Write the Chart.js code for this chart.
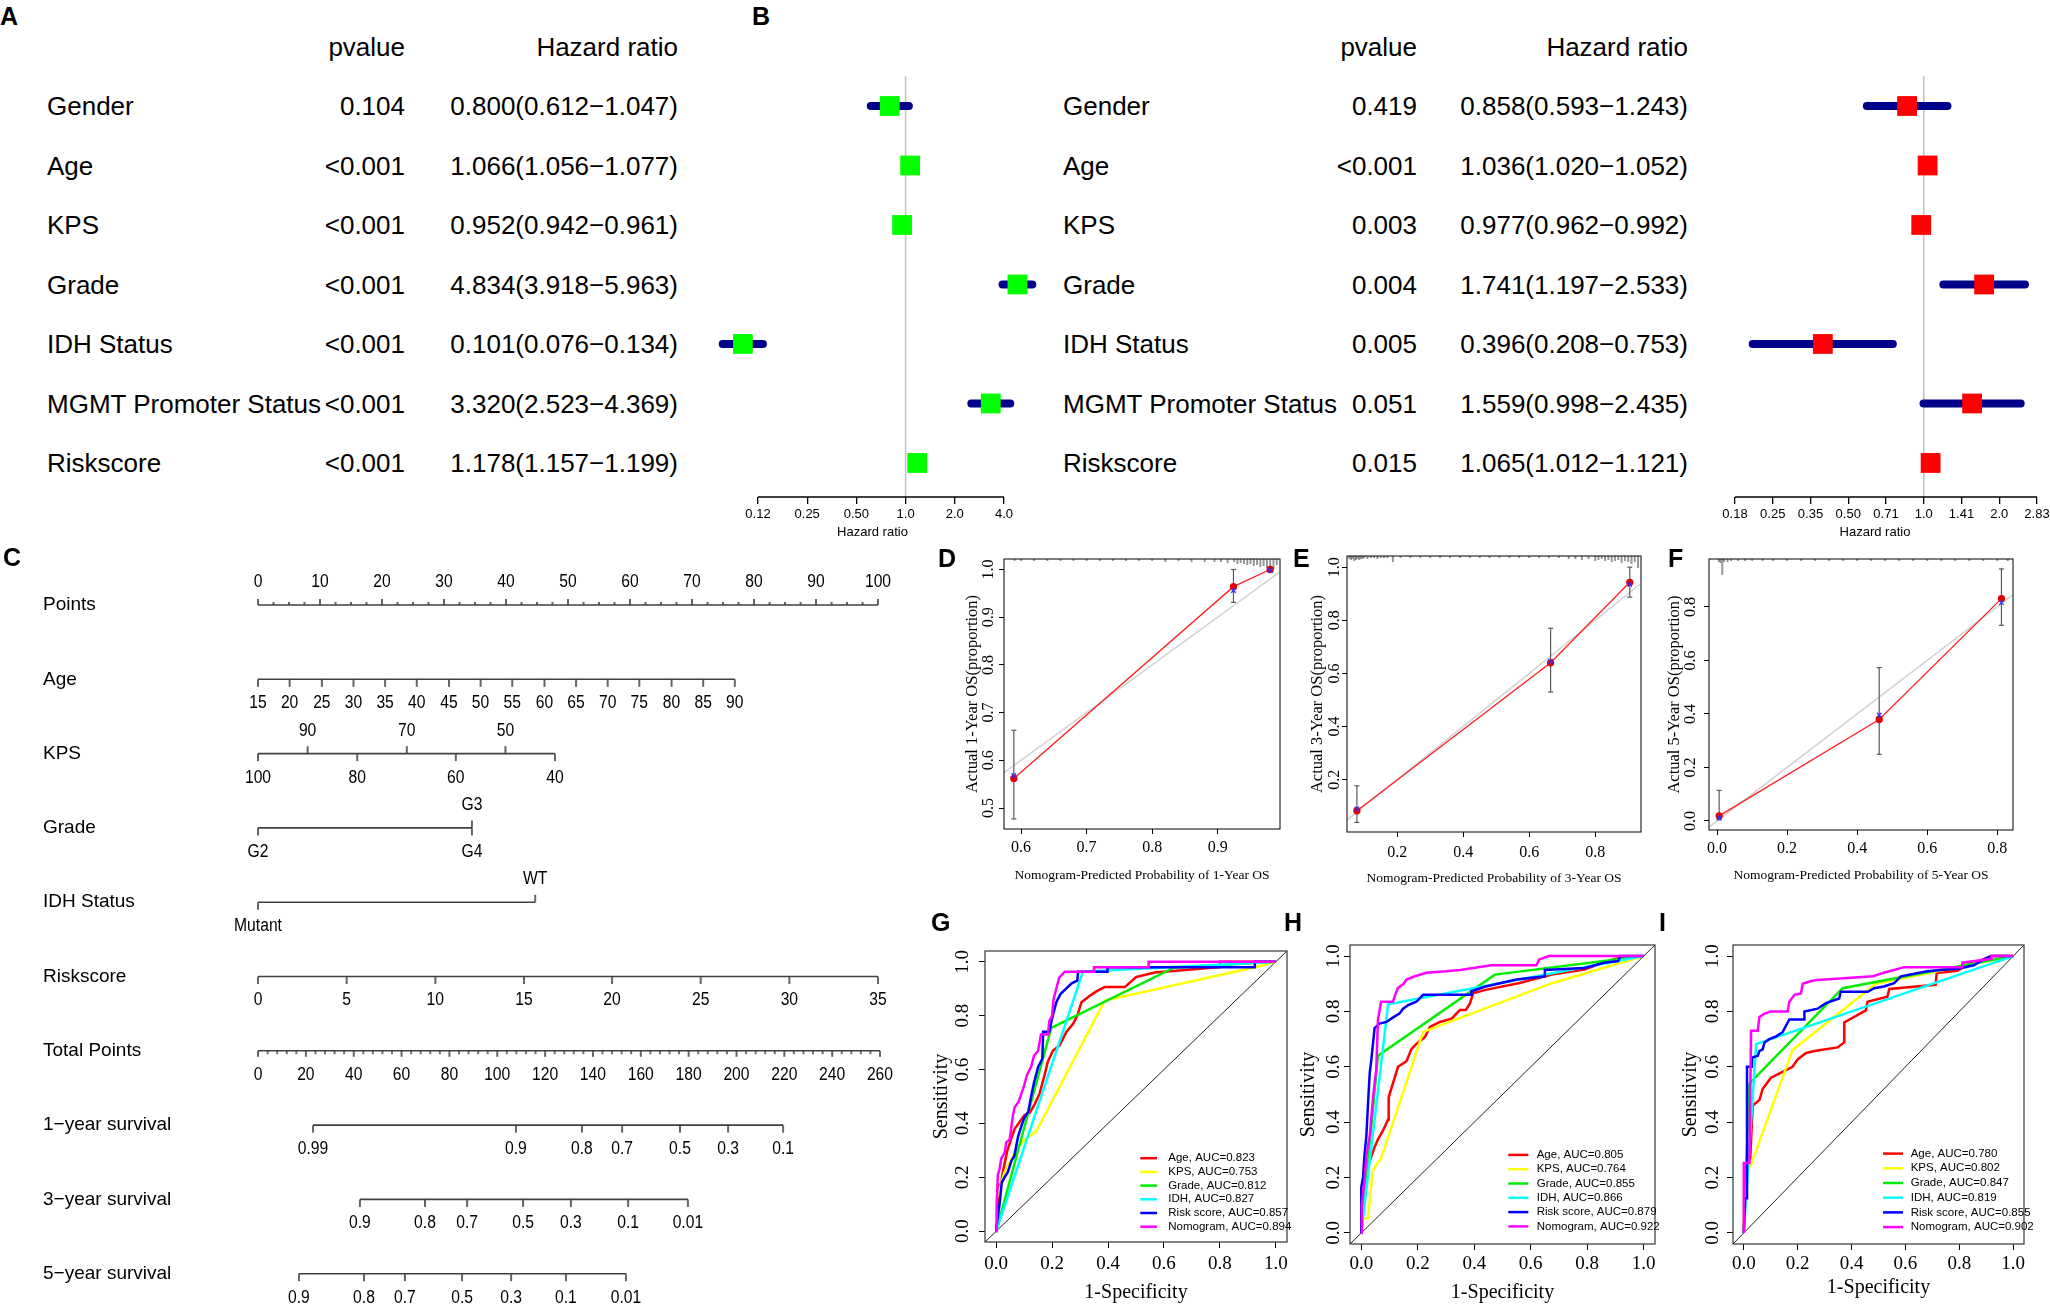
<!DOCTYPE html>
<html><head><meta charset="utf-8">
<script src="https://cdn.jsdelivr.net/npm/chart.js"></script>
<style>
html,body{margin:0;padding:0;background:#fff;}
#fig{position:relative;width:2050px;height:1306px;overflow:hidden;font-family:'Liberation Sans',Arial,sans-serif;color:#000;background:#fff;}
canvas{position:absolute;}
.t{position:absolute;white-space:nowrap;line-height:1;}
.tab{font-size:26px;}
.lab{font-weight:bold;font-size:25px;}
</style></head><body><div id="fig"></div>
<script>
// ---------------- DATA ----------------
const varNames = ['Gender','Age','KPS','Grade','IDH Status','MGMT Promoter Status','Riskscore'];
// Panel A: univariate Cox
const uniP  = ['0.104','<0.001','<0.001','<0.001','<0.001','<0.001','<0.001'];
const uniHR = [0.800,1.066,0.952,4.834,0.101,3.320,1.178];
const uniLo = [0.612,1.056,0.942,3.918,0.076,2.523,1.157];
const uniHi = [1.047,1.077,0.961,5.963,0.134,4.369,1.199];
const uniTicks = [0.125,0.25,0.5,1,2,4];
const uniTickLabels = ['0.12','0.25','0.50','1.0','2.0','4.0'];
// Panel B: multivariate Cox
const multiP  = ['0.419','<0.001','0.003','0.004','0.005','0.051','0.015'];
const multiHR = [0.858,1.036,0.977,1.741,0.396,1.559,1.065];
const multiLo = [0.593,1.020,0.962,1.197,0.208,0.998,1.012];
const multiHi = [1.243,1.052,0.992,2.533,0.753,2.435,1.121];
const multiTicks = [0.1768,0.25,0.3536,0.5,0.7071,1,1.4142,2,2.8284];
const multiTickLabels = ['0.18','0.25','0.35','0.50','0.71','1.0','1.41','2.0','2.83'];

// Panel C: nomogram
const nomoRows = ['Points','Age','KPS','Grade','IDH Status','Riskscore','Total Points','1\u2212year survival','3\u2212year survival','5\u2212year survival'];
const pointsTicks = [0,2.5,5,7.5,10,12.5,15,17.5,20,22.5,25,27.5,30,32.5,35,37.5,40,42.5,45,47.5,50,52.5,55,57.5,60,62.5,65,67.5,70,72.5,75,77.5,80,82.5,85,87.5,90,92.5,95,97.5,100];
const ageLabels = ['15','20','25','30','35','40','45','50','55','60','65','70','75','80','85','90'];
const agePoints = [0,5.1,10.3,15.4,20.5,25.6,30.8,35.9,41.0,46.2,51.3,56.4,61.5,66.7,71.8,76.9];
const kpsLabels = ['100','90','80','70','60','50','40'];
const kpsPoints = [0,8.0,16.0,24.0,31.9,39.9,47.9];
const kpsSides  = ['down','up','down','up','down','up','down'];
const gradeLabels = ['G2','G3','G4'];
const gradePoints = [0,34.5,34.5];
const gradeSides  = ['down','up','down'];
const idhLabels = ['Mutant','WT'];
const idhPoints = [0,44.7];
const idhSides  = ['down','up'];
const riskLabels = ['0','5','10','15','20','25','30','35'];
const riskPoints = [0,14.3,28.6,42.9,57.1,71.4,85.7,100];
const totalTicks = [0,4,8,12,16,20,24,28,32,36,40,44,48,52,56,60,64,68,72,76,80,84,88,92,96,100,104,108,112,116,120,124,128,132,136,140,144,148,152,156,160,164,168,172,176,180,184,188,192,196,200,204,208,212,216,220,224,228,232,236,240,244,248,252,256,260];
const surv1Labels = ['0.99','0.9','0.8','0.7','0.5','0.3','0.1'];
const surv1Total  = [23.0,107.8,135.4,152.2,176.4,196.5,219.5];
const surv3Labels = ['0.9','0.8','0.7','0.5','0.3','0.1','0.01'];
const surv3Total  = [42.6,69.8,87.4,110.8,130.8,154.7,179.7];
const surv5Labels = ['0.9','0.8','0.7','0.5','0.3','0.1','0.01'];
const surv5Total  = [17.1,44.3,61.4,85.3,105.8,128.7,153.8];

// Panels D-F: calibration
const predD = [0.589,0.924,0.980], obsD = [0.562,0.964,1.000], loD = [0.477,0.931,0.994], hiD = [0.663,1.000,1.000], corD = [0.568,0.956,0.998];
const predE = [0.078,0.665,0.905], obsE = [0.083,0.640,0.943], loE = [0.039,0.530,0.887], hiE = [0.177,0.770,1.000], corE = [0.090,0.645,0.935];
const predF = [0.006,0.463,0.812], obsF = [0.019,0.379,0.831], loF = [0.004,0.249,0.731], hiF = [0.114,0.573,0.942], corF = [0.012,0.396,0.816];
const rugDx = [0.59,0.60,0.62,0.64,0.66,0.68,0.70,0.72,0.74,0.76,0.78,0.80,0.82,0.84,0.86,0.88,0.895,0.905,0.915,0.925,0.93,0.935,0.94,0.945,0.95,0.955,0.96,0.965,0.97,0.975,0.98,0.985,0.99];
const rugDl = [2,2,2,2,2,2,2,2,2,2,2,2,3,2,3,3,3,3,4,3,5,4,5,6,5,7,6,8,7,9,8,10,6];
const rugEx = [0.055,0.06,0.065,0.07,0.075,0.08,0.085,0.09,0.095,0.10,0.11,0.12,0.13,0.14,0.15,0.16,0.17,0.187,0.21,0.24,0.27,0.30,0.33,0.36,0.39,0.42,0.45,0.48,0.51,0.54,0.57,0.60,0.63,0.66,0.69,0.72,0.74,0.76,0.78,0.80,0.81,0.82,0.83,0.84,0.85,0.86,0.87,0.88,0.89,0.90,0.91,0.92,0.93];
const rugEl = [3,4,3,5,4,3,4,3,3,2,3,2,2,3,2,2,2,6,2,2,2,2,2,2,2,2,2,2,2,2,2,2,2,2,2,3,3,4,3,5,4,3,5,4,6,5,4,7,5,6,8,6,12];
const rugFx = [0.005,0.01,0.015,0.02,0.03,0.04,0.06,0.08,0.10,0.13,0.16,0.20,0.24,0.28,0.32,0.36,0.40,0.44,0.48,0.52,0.56,0.60,0.64,0.68,0.72,0.76,0.80,0.83];
const rugFl = [3,4,16,3,3,2,2,2,2,2,2,2,2,2,2,2,2,2,2,2,2,2,2,2,2,2,2,2];

// Panels G-I: ROC curves  [1-specificity, sensitivity]
const rocNames = ['Age','KPS','Grade','IDH','Risk score','Nomogram'];
const aucG = [0.823,0.753,0.812,0.827,0.857,0.894];
const aucH = [0.805,0.764,0.855,0.866,0.879,0.922];
const aucI = [0.780,0.802,0.847,0.819,0.855,0.902];
const rocG_Age = [[0,0],[0.004,0.10],[0.006,0.17],[0.018,0.175],[0.022,0.21],[0.04,0.30],[0.066,0.38],[0.08,0.40],[0.10,0.43],[0.12,0.44],[0.137,0.47],[0.155,0.51],[0.173,0.58],[0.185,0.63],[0.203,0.67],[0.227,0.69],[0.251,0.74],[0.275,0.77],[0.29,0.80],[0.305,0.85],[0.33,0.87],[0.358,0.89],[0.388,0.906],[0.46,0.906],[0.50,0.943],[0.567,0.96],[0.60,0.963],[0.80,0.98],[0.80,1.0],[1,1]];
const rocG_KPS = [[0,0],[0.002,0.12],[0.03,0.22],[0.07,0.30],[0.10,0.34],[0.143,0.37],[0.388,0.856],[0.926,0.98],[1,1]];
const rocG_Grade = [[0,0],[0.197,0.755],[0.636,0.978],[1,1]];
const rocG_IDH = [[0,0],[0.31,0.963],[1,1]];
const rocG_Risk = [[0,0],[0.004,0.04],[0.008,0.07],[0.012,0.10],[0.02,0.18],[0.03,0.20],[0.042,0.22],[0.054,0.26],[0.065,0.28],[0.078,0.35],[0.09,0.39],[0.10,0.42],[0.115,0.445],[0.125,0.50],[0.135,0.55],[0.15,0.61],[0.165,0.64],[0.168,0.74],[0.19,0.74],[0.20,0.79],[0.215,0.85],[0.23,0.88],[0.25,0.90],[0.27,0.92],[0.29,0.93],[0.293,0.963],[0.398,0.963],[0.398,0.98],[0.925,0.98],[0.925,1.0],[1,1]];
const rocG_Nomo = [[0,0],[0.002,0.10],[0.006,0.21],[0.012,0.23],[0.018,0.27],[0.03,0.29],[0.036,0.33],[0.048,0.34],[0.06,0.43],[0.066,0.46],[0.08,0.48],[0.09,0.51],[0.10,0.54],[0.11,0.58],[0.125,0.61],[0.135,0.65],[0.15,0.67],[0.16,0.73],[0.185,0.73],[0.19,0.78],[0.20,0.80],[0.205,0.86],[0.215,0.90],[0.225,0.94],[0.245,0.963],[0.35,0.963],[0.35,0.98],[0.545,0.98],[0.545,1.0],[1,1]];
const rocH_Age = [[0,0],[0.006,0.09],[0.012,0.17],[0.03,0.26],[0.047,0.31],[0.06,0.34],[0.077,0.37],[0.095,0.41],[0.097,0.49],[0.112,0.54],[0.13,0.60],[0.16,0.62],[0.178,0.665],[0.195,0.683],[0.225,0.707],[0.243,0.744],[0.278,0.762],[0.32,0.774],[0.349,0.805],[0.37,0.805],[0.385,0.83],[0.396,0.866],[0.44,0.878],[0.556,0.902],[0.675,0.933],[0.79,0.951],[0.84,0.97],[0.90,0.99],[1,1]];
const rocH_KPS = [[0,0],[0.006,0.05],[0.024,0.055],[0.04,0.226],[0.07,0.27],[0.219,0.726],[0.675,0.902],[1,1]];
const rocH_Grade = [[0,0],[0.059,0.64],[0.473,0.933],[1,1]];
const rocH_IDH = [[0,0],[0.095,0.826],[1,1]];
const rocH_Risk = [[0,0],[0,0.165],[0.006,0.20],[0.012,0.29],[0.018,0.35],[0.024,0.47],[0.03,0.58],[0.035,0.62],[0.047,0.74],[0.065,0.756],[0.089,0.762],[0.106,0.774],[0.136,0.793],[0.148,0.81],[0.166,0.823],[0.195,0.835],[0.219,0.86],[0.39,0.86],[0.39,0.873],[0.44,0.89],[0.55,0.915],[0.65,0.927],[0.65,0.95],[0.79,0.957],[0.86,0.976],[0.91,0.982],[0.917,1.0],[1,1]];
const rocH_Nomo = [[0,0],[0.002,0.10],[0.012,0.20],[0.018,0.28],[0.03,0.35],[0.04,0.47],[0.047,0.54],[0.053,0.59],[0.059,0.77],[0.07,0.835],[0.112,0.835],[0.12,0.86],[0.13,0.885],[0.15,0.90],[0.16,0.915],[0.19,0.927],[0.23,0.94],[0.30,0.945],[0.35,0.95],[0.46,0.967],[0.62,0.967],[0.63,0.988],[0.665,1.0],[1,1]];
const rocI_Age = [[0,0],[0.004,0.10],[0.015,0.25],[0.024,0.27],[0.033,0.46],[0.058,0.48],[0.07,0.52],[0.10,0.56],[0.12,0.57],[0.181,0.60],[0.20,0.627],[0.231,0.65],[0.262,0.657],[0.348,0.67],[0.373,0.688],[0.373,0.76],[0.453,0.804],[0.459,0.835],[0.533,0.853],[0.54,0.881],[0.712,0.896],[0.716,0.939],[0.793,0.947],[0.83,0.969],[0.89,0.988],[0.916,1.0],[1,1]];
const rocI_KPS = [[0,0],[0.002,0.21],[0.027,0.247],[0.181,0.661],[0.49,0.90],[1,1]];
const rocI_Grade = [[0,0],[0.021,0.54],[0.367,0.884],[1,1]];
const rocI_IDH = [[0,0],[0.046,0.682],[1,1]];
const rocI_Risk = [[0,0],[0.005,0.125],[0.012,0.125],[0.012,0.60],[0.03,0.60],[0.031,0.633],[0.052,0.64],[0.058,0.657],[0.07,0.663],[0.077,0.688],[0.095,0.70],[0.12,0.71],[0.144,0.725],[0.169,0.771],[0.225,0.771],[0.225,0.80],[0.274,0.81],[0.305,0.83],[0.354,0.847],[0.36,0.871],[0.46,0.871],[0.484,0.884],[0.52,0.89],[0.558,0.902],[0.583,0.927],[0.68,0.945],[0.80,0.955],[0.854,0.967],[0.89,0.988],[0.92,1.0],[1,1]];
const rocI_Nomo = [[0,0],[0,0.253],[0.021,0.253],[0.027,0.73],[0.052,0.73],[0.058,0.78],[0.077,0.792],[0.10,0.80],[0.163,0.80],[0.169,0.835],[0.188,0.86],[0.212,0.865],[0.219,0.90],[0.25,0.91],[0.274,0.914],[0.48,0.927],[0.52,0.94],[0.595,0.96],[0.81,0.96],[0.811,0.976],[0.92,0.99],[0.92,1.0],[1,1]];
const rocTicks = [0,0.2,0.4,0.6,0.8,1.0];

// ---------------- SETUP ----------------
const SANS = "'Liberation Sans', Arial, sans-serif";
const SERIF = "'Liberation Serif', 'Times New Roman', serif";
Chart.defaults.font.family = SANS;
Chart.defaults.color = '#000';
Chart.defaults.animation = false;
Chart.defaults.events = [];
Chart.defaults.plugins.legend.display = false;
Chart.defaults.plugins.tooltip.enabled = false;

const fig = document.getElementById('fig');
function mkCanvas(left, top, w, h) {
  const c = document.createElement('canvas');
  c.width = w; c.height = h;
  c.style.left = left + 'px'; c.style.top = top + 'px';
  c.style.width = w + 'px'; c.style.height = h + 'px';
  fig.appendChild(c);
  return c;
}
function addText(txt, x, y, cls, align) {
  const d = document.createElement('div');
  d.className = 't ' + cls; d.textContent = txt;
  const tx = align === 'r' ? '-100%' : (align === 'c' ? '-50%' : '0');
  d.style.left = x + 'px'; d.style.top = y + 'px';
  d.style.transform = 'translate(' + tx + ',-50%)';
  fig.appendChild(d);
}
function tickImg(up, down, color, w) {
  const c = document.createElement('canvas');
  const L = Math.max(up, down);
  c.width = 4; c.height = Math.ceil(2 * L + 2);
  const g = c.getContext('2d');
  g.fillStyle = color;
  const cy = c.height / 2;
  g.fillRect(2 - w / 2, cy - up, w, up + down);
  return c;
}

// ---------------- PLUGINS ----------------
const forestAxisLine = {
  id: 'forestAxisLine',
  afterDraw(chart) {
    const s = chart.scales.x, t = s.ticks, c = chart.ctx, y = chart.chartArea.bottom;
    c.save(); c.strokeStyle = '#000'; c.lineWidth = 1.3;
    c.beginPath(); c.moveTo(s.getPixelForValue(t[0].value), y); c.lineTo(s.getPixelForValue(t[t.length - 1].value), y); c.stroke();
    c.restore();
  }
};
const boxPlugin = {
  id: 'box',
  afterDatasetsDraw(chart, args, o) {
    const a = chart.chartArea, c = chart.ctx;
    c.save(); c.strokeStyle = o.color || '#000'; c.lineWidth = o.lw || 1;
    c.strokeRect(a.left, a.top, a.right - a.left, a.bottom - a.top);
    c.restore();
  }
};
const rocLegend = {
  id: 'rocLegend',
  afterDatasetsDraw(chart, args, o) {
    const a = chart.chartArea, c = chart.ctx;
    const items = chart.data.datasets.filter(d => d.legendText);
    c.save(); c.font = '11.5px ' + SANS; c.textBaseline = 'middle'; c.textAlign = 'left';
    items.forEach((d, i) => {
      const y = a.bottom - o.bottom - (items.length - 1 - i) * o.gap;
      c.strokeStyle = d.borderColor; c.lineWidth = 2.5;
      c.beginPath(); c.moveTo(a.right - o.lineL, y); c.lineTo(a.right - o.lineR, y); c.stroke();
      c.fillStyle = '#000'; c.fillText(d.legendText, a.right - o.text, y);
    });
    c.restore();
  }
};
const nomoLabels = {
  id: 'nomoLabels',
  afterDatasetsDraw(chart) {
    const c = chart.ctx;
    c.save(); c.font = '18px ' + SANS; c.fillStyle = '#000'; c.textAlign = 'center'; c.textBaseline = 'middle';
    chart.data.datasets.forEach((d, i) => {
      if (!d.tickLabels) return;
      const meta = chart.getDatasetMeta(i);
      meta.data.forEach((el, j) => {
        const t = d.tickLabels[j]; if (!t) return;
        c.save();
        c.translate(el.x, el.y + (d.sides[j] === 'up' ? -23 : 24));
        c.scale(0.87, 1);
        c.fillText(t, 0, 0);
        c.restore();
      });
    });
    c.restore();
  }
};

// ---------------- FOREST (A, B) ----------------
const FY_MIN = -0.504, FY_MAX = 6.572;
function forest(left, width, hr, lo, hi, color, ticks, tickLabels, xmin, xmax) {
  const cv = mkCanvas(left, 60, width, 490);
  const ds = [{ data: [{ x: 0, y: FY_MIN }, { x: 0, y: FY_MAX }], showLine: true, borderColor: '#c4c4c4', borderWidth: 1.6, pointRadius: 0, order: 10 }];
  hr.forEach((h, i) => ds.push({ data: [{ x: Math.log2(lo[i]), y: i }, { x: Math.log2(hi[i]), y: i }], showLine: true, borderColor: '#00008B', borderWidth: 8, borderCapStyle: 'round', pointRadius: 0, order: 5 }));
  ds.push({ data: hr.map((h, i) => ({ x: Math.log2(h), y: i })), pointStyle: 'rect', pointRadius: 14, backgroundColor: color, pointBackgroundColor: color, borderWidth: 0, pointBorderWidth: 0, order: 1 });
  new Chart(cv, {
    type: 'scatter', data: { datasets: ds },
    options: {
      responsive: false, layout: { autoPadding: false, padding: { top: 16, left: 0, right: 0, bottom: 0 } },
      scales: {
        x: { type: 'linear', min: xmin, max: xmax,
          afterBuildTicks: s => { s.ticks = ticks.map(v => ({ value: Math.log2(v) })); },
          afterFit: s => { s.height = 53; s.paddingLeft = 0; s.paddingRight = 0; },
          grid: { display: true, drawOnChartArea: false, drawTicks: true, tickLength: 7, color: '#000', lineWidth: 1.3 },
          border: { display: false },
          ticks: { autoSkip: false, maxRotation: 0, minRotation: 0, padding: 3, font: { size: 13 }, color: '#000', callback: (v, i) => tickLabels[i] },
          title: { display: true, text: 'Hazard ratio', font: { size: 13 }, color: '#000', padding: { top: 0, bottom: 10 } } },
        y: { type: 'linear', display: false, reverse: true, min: FY_MIN, max: FY_MAX }
      }
    },
    plugins: [forestAxisLine]
  });
}
forest(700, 345, uniHR, uniLo, uniHi, '#00FF00', uniTicks, uniTickLabels, -4.1789, 2.8333);
forest(1700, 350, multiHR, multiLo, multiHi, '#FF0000', multiTicks, multiTickLabels, -2.9636, 1.6722);

function fmtHR(h, l, u) { return h.toFixed(3) + '(' + l.toFixed(3) + '\u2212' + u.toFixed(3) + ')'; }
function table(xLab, xP, xHR, pv, hr, lo, hi) {
  addText('pvalue', xP, 47, 'tab', 'r');
  addText('Hazard ratio', xHR, 47, 'tab', 'r');
  varNames.forEach((n, i) => {
    const y = 106 + 59.55 * i;
    addText(n, xLab, y, 'tab', 'l');
    addText(pv[i], xP, y, 'tab', 'r');
    addText(fmtHR(hr[i], lo[i], hi[i]), xHR, y, 'tab', 'r');
  });
}
table(47, 405, 678, uniP, uniHR, uniLo, uniHi);
table(1063, 1417, 1688, multiP, multiHR, multiLo, multiHi);

// ---------------- NOMOGRAM (C) ----------------
(function () {
  const cv = mkCanvas(0, 540, 920, 766);
  const LC = '#404040';
  const tDown = tickImg(0, 7.5, LC, 1.6), tUp = tickImg(7.5, 0, LC, 1.6);
  const tUpMaj = tickImg(6, 0, LC, 1.6), tUpMin = tickImg(3, 0, LC, 1.6);
  const tDnMaj = tickImg(0, 6, LC, 1.6), tDnMin = tickImg(0, 3.3, LC, 1.6);
  function row(k, pos, labels, sides, axis, styles) {
    return { data: pos.map(p => ({ x: p, y: k })), xAxisID: axis, yAxisID: 'y', showLine: true, borderColor: LC, borderWidth: 1.6,
      pointRadius: 1, pointStyle: styles || sides.map(s => s === 'up' ? tUp : tDown), tickLabels: labels, sides: sides };
  }
  const down = n => new Array(n).fill('down');
  const ds = [
    row(0, pointsTicks, pointsTicks.map(v => v % 10 === 0 ? String(v) : ''), pointsTicks.map(() => 'up'), 'x', pointsTicks.map(v => v % 10 === 0 ? tUpMaj : tUpMin)),
    row(1, agePoints, ageLabels, down(ageLabels.length), 'x'),
    row(2, kpsPoints, kpsLabels, kpsSides, 'x'),
    row(3, gradePoints, gradeLabels, gradeSides, 'x'),
    row(4, idhPoints, idhLabels, idhSides, 'x'),
    row(5, riskPoints, riskLabels, down(riskLabels.length), 'x'),
    row(6, totalTicks, totalTicks.map(v => v % 20 === 0 ? String(v) : ''), down(totalTicks.length), 'x2', totalTicks.map(v => v % 20 === 0 ? tDnMaj : tDnMin)),
    row(7, surv1Total, surv1Labels, down(surv1Labels.length), 'x2'),
    row(8, surv3Total, surv3Labels, down(surv3Labels.length), 'x2'),
    row(9, surv5Total, surv5Labels, down(surv5Labels.length), 'x2')
  ];
  new Chart(cv, {
    type: 'scatter', data: { datasets: ds },
    options: {
      responsive: false, layout: { autoPadding: false, padding: { left: 43, top: 0, right: 0, bottom: 0 } },
      scales: {
        x: { type: 'linear', display: false, min: -2.419, max: 106.774 },
        x2: { type: 'linear', axis: 'x', display: false, min: -6.27, max: 276.73 },
        y: { type: 'linear', reverse: true, min: -0.8748, max: 9.4347,
          afterBuildTicks: s => { s.ticks = nomoRows.map((_, i) => ({ value: i })); },
          afterFit: s => { s.width = 200; s.paddingTop = 0; s.paddingBottom = 0; },
          grid: { display: false }, border: { display: false },
          ticks: { autoSkip: false, crossAlign: 'far', font: { size: 19 }, color: '#000', callback: (v, i) => nomoRows[i] } }
      }
    },
    plugins: [nomoLabels]
  });
})();

// ---------------- AXIS BUILDERS ----------------
function axX(o) {
  return { type: 'linear', min: o.min, max: o.max,
    afterBuildTicks: s => { s.ticks = o.ticks.map(v => ({ value: v })); },
    afterFit: s => { s.height = o.h; s.paddingLeft = 0; s.paddingRight = 0; },
    grid: { display: true, drawOnChartArea: false, drawTicks: true, tickLength: o.tl, color: '#000', lineWidth: 1 },
    border: { display: false },
    ticks: { autoSkip: false, maxRotation: 0, minRotation: 0, padding: o.tp, font: { family: SERIF, size: o.fs }, color: '#000', callback: v => v.toFixed(1) },
    title: { display: true, text: o.title, font: { family: SERIF, size: o.tfs }, color: '#000', padding: { top: 0, bottom: o.ttp } } };
}
function axY(o) {
  return { type: 'linear', min: o.min, max: o.max,
    afterBuildTicks: s => { s.ticks = o.ticks.map(v => ({ value: v })); },
    afterFit: s => { s.width = o.w; s.paddingTop = 0; s.paddingBottom = 0; },
    grid: { display: true, drawOnChartArea: false, drawTicks: true, tickLength: o.tl, color: '#000', lineWidth: 1 },
    border: { display: false },
    ticks: { autoSkip: false, minRotation: 90, maxRotation: 90, crossAlign: 'center', padding: o.tp, font: { family: SERIF, size: o.fs }, color: '#000', callback: v => v.toFixed(1) },
    title: { display: true, text: o.title, font: { family: SERIF, size: o.tfs }, color: '#000', padding: { top: o.ttp, bottom: 0 } } };
}

// ---------------- CALIBRATION (D, E, F) ----------------
function calib(c) {
  const cv = mkCanvas(c.left, c.top, c.w, c.h);
  const ds = [];
  ds.push({ data: [{ x: c.xmin, y: c.xmin }, { x: c.xmax, y: c.xmax }], showLine: true, borderColor: '#d2d2d2', borderWidth: 1.5, pointRadius: 0, order: 20 });
  c.pred.forEach((p, i) => ds.push({ data: [{ x: p, y: c.lo[i] }, { x: p, y: c.hi[i] }], showLine: true, borderColor: '#5a5a5a', borderWidth: 1.2,
    pointStyle: 'line', pointRadius: 2.5, pointBorderColor: '#5a5a5a', pointBorderWidth: 1.2, order: 10 }));
  ds.push({ data: c.pred.map((p, i) => ({ x: p, y: c.obs[i] })), showLine: true, borderColor: '#FF2020', borderWidth: 1.3,
    pointRadius: 3, pointBackgroundColor: '#E00000', pointBorderColor: '#E00000', order: 5 });
  ds.push({ data: c.pred.map((p, i) => ({ x: p, y: c.cor[i] })), pointStyle: 'crossRot', pointRadius: 3.2, pointBorderColor: '#3030FF', pointBorderWidth: 1.3, order: 4 });
  const rugImgs = {};
  ds.push({ data: c.rugX.map(x => ({ x: x, y: c.ymax })), pointRadius: 1,
    pointStyle: c.rugL.map(l => rugImgs[l] || (rugImgs[l] = tickImg(0, l, '#333', 1))), order: 3 });
  new Chart(cv, {
    type: 'scatter', data: { datasets: ds },
    options: {
      responsive: false, layout: { autoPadding: false, padding: { top: c.pt, right: c.pr, left: 0, bottom: 0 } },
      scales: {
        x: axX({ min: c.xmin, max: c.xmax, ticks: c.xticks, h: c.xh, tl: 5, tp: c.xtp, fs: 16, title: c.xtitle, tfs: 13.5, ttp: c.xttp }),
        y: axY({ min: c.ymin, max: c.ymax, ticks: c.yticks, w: c.yw, tl: 5, tp: c.ytp, fs: 16, title: c.ytitle, tfs: 16.5, ttp: c.yttp })
      },
      plugins: { box: { color: '#000', lw: 1 } }
    },
    plugins: [boxPlugin]
  });
}
calib({ left: 950, top: 545, w: 340, h: 345, pt: 14, pr: 10, yw: 54, xh: 61, xmin: 0.574, xmax: 0.995, ymin: 0.456, ymax: 1.022,
  xticks: [0.6, 0.7, 0.8, 0.9], yticks: [0.5, 0.6, 0.7, 0.8, 0.9, 1.0], xtp: 3.8, ytp: 0, xttp: 6.9, yttp: 12.6,
  xtitle: 'Nomogram-Predicted Probability of 1-Year OS', ytitle: 'Actual 1-Year OS(proportion)',
  pred: predD, obs: obsD, lo: loD, hi: hiD, cor: corD, rugX: rugDx, rugL: rugDl });
calib({ left: 1293, top: 541, w: 358, h: 349, pt: 15, pr: 10, yw: 54, xh: 58, xmin: 0.048, xmax: 0.939, ymin: 0.003, ymax: 1.042,
  xticks: [0.2, 0.4, 0.6, 0.8], yticks: [0.2, 0.4, 0.6, 0.8, 1.0], xtp: 5.9, ytp: -2.4, xttp: 3.9, yttp: 15.1,
  xtitle: 'Nomogram-Predicted Probability of 3-Year OS', ytitle: 'Actual 3-Year OS(proportion)',
  pred: predE, obs: obsE, lo: loE, hi: hiE, cor: corE, rugX: rugEx, rugL: rugEl });
calib({ left: 1660, top: 545, w: 365, h: 345, pt: 14, pr: 12, yw: 49, xh: 60, xmin: -0.023, xmax: 0.845, ymin: -0.034, ymax: 0.979,
  xticks: [0, 0.2, 0.4, 0.6, 0.8], yticks: [0, 0.2, 0.4, 0.6, 0.8], xtp: 4.4, ytp: 3, xttp: 6.9, yttp: 5.1,
  xtitle: 'Nomogram-Predicted Probability of 5-Year OS', ytitle: 'Actual 5-Year OS(proportion)',
  pred: predF, obs: obsF, lo: loF, hi: hiF, cor: corF, rugX: rugFx, rugL: rugFl });

// ---------------- ROC (G, H, I) ----------------
const rocColors = ['#FF0000', '#FFFF00', '#00EE00', '#00FFFF', '#0000FF', '#FF00FF'];
function roc(c) {
  const cv = mkCanvas(c.left, c.top, c.w, c.h);
  const ds = c.curves.map((pts, i) => ({ data: pts.map(p => ({ x: p[0], y: p[1] })), showLine: true, borderColor: rocColors[i], borderWidth: 2.5,
    pointRadius: 0, order: 7 - i, legendText: rocNames[i] + ', AUC=' + c.auc[i].toFixed(3) }));
  ds.push({ data: [{ x: -0.04, y: -0.04 }, { x: 1.04, y: 1.04 }], showLine: true, borderColor: '#222', borderWidth: 1, pointRadius: 0, order: 20 });
  new Chart(cv, {
    type: 'scatter', data: { datasets: ds },
    options: {
      responsive: false, layout: { autoPadding: false, padding: { top: c.pt, right: c.pr, left: 0, bottom: 0 } },
      scales: {
        x: axX({ min: -0.04, max: 1.04, ticks: rocTicks, h: c.xh, tl: 6, tp: c.xtp, fs: 19, title: '1-Specificity', tfs: 20, ttp: c.xttp }),
        y: axY({ min: -0.04, max: 1.04, ticks: rocTicks, w: c.yw, tl: 6, tp: c.ytp, fs: 19, title: 'Sensitivity', tfs: 20, ttp: c.yttp })
      },
      plugins: { box: { color: '#444', lw: 1.3 }, rocLegend: c.leg }
    },
    plugins: [boxPlugin, rocLegend]
  });
}
roc({ left: 920, top: 935, w: 375, h: 371, pt: 16, pr: 8, yw: 65, xh: 64, xtp: 4.4, ytp: 4, xttp: 1.5, yttp: 9.6,
  curves: [rocG_Age, rocG_KPS, rocG_Grade, rocG_IDH, rocG_Risk, rocG_Nomo], auc: aucG,
  leg: { bottom: 15.3, gap: 13.7, lineL: 146.7, lineR: 130, text: 118.7 } });
roc({ left: 1290, top: 930, w: 375, h: 376, pt: 15, pr: 10, yw: 60, xh: 62, xtp: 3, ytp: -2.3, xttp: 1.5, yttp: 7,
  curves: [rocH_Age, rocH_KPS, rocH_Grade, rocH_IDH, rocH_Risk, rocH_Nomo], auc: aucH,
  leg: { bottom: 17.6, gap: 14.3, lineL: 146.7, lineR: 126.7, text: 118.3 } });
roc({ left: 1672, top: 930, w: 362, h: 376, pt: 15, pr: 10, yw: 61, xh: 62, xtp: 3, ytp: 2.4, xttp: 6.6, yttp: 7,
  curves: [rocI_Age, rocI_KPS, rocI_Grade, rocI_IDH, rocI_Risk, rocI_Nomo], auc: aucI,
  leg: { bottom: 16.9, gap: 14.7, lineL: 141, lineR: 121, text: 113.3 } });

// ---------------- PANEL LETTERS ----------------
[['A', 0, 15.5], ['B', 752, 15.5], ['C', 3, 557], ['D', 938, 558], ['E', 1293, 558], ['F', 1668, 558], ['G', 931, 922], ['H', 1284, 922], ['I', 1659, 922]]
  .forEach(l => addText(l[0], l[1], l[2], 'lab', 'l'));
</script></body></html>
